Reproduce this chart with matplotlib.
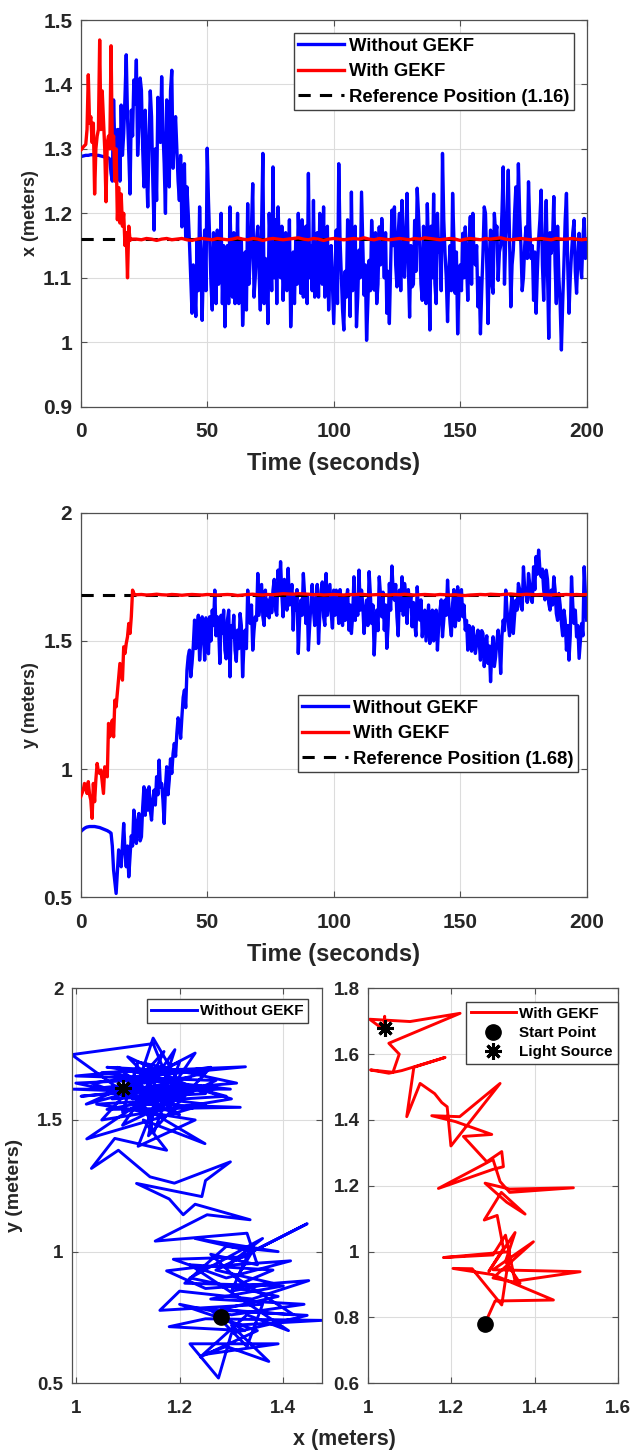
import numpy as np
import matplotlib
matplotlib.use('Agg')
import matplotlib.pyplot as plt

plt.rcParams['font.family'] = ['Liberation Sans', 'DejaVu Sans']
plt.rcParams['font.weight'] = 'bold'

# ---- x position vs time, without GEKF: whole seconds 0..200 ----
x_without = [
    1.288, 1.289, 1.290, 1.290, 1.291, 1.291, 1.290, 1.290, 1.289, 1.288,
    1.287, 1.286, 1.262, 1.376, 1.262, 1.330, 1.368, 1.324, 1.446, 1.293,
    1.360, 1.407, 1.438, 1.334, 1.391, 1.241, 1.272, 1.314, 1.350, 1.174,
    1.220, 1.340, 1.412, 1.277, 1.376, 1.241, 1.422, 1.319, 1.298, 1.220,
    1.179, 1.277, 1.241, 1.153, 1.045, 1.086, 1.158, 1.210, 1.034, 1.174,
    1.301, 1.158, 1.050, 1.112, 1.174, 1.117, 1.060, 1.024, 1.150, 1.210,
    1.070, 1.060, 1.200, 1.120, 1.026, 1.140, 1.215, 1.130, 1.246, 1.101,
    1.180, 1.050, 1.293, 1.130, 1.029, 1.150, 1.272, 1.190, 1.210, 1.100,
    1.065, 1.170, 1.090, 1.024, 1.140, 1.158, 1.200, 1.076, 1.070, 1.180,
    1.262, 1.150, 1.220, 1.110, 1.070, 1.160, 1.210, 1.120, 1.050, 1.150,
    1.029, 1.174, 1.277, 1.107, 1.019, 1.070, 1.127, 1.233, 1.138, 1.024,
    1.143, 1.233, 1.073, 1.003, 1.127, 1.189, 1.081, 1.060, 1.179, 1.192,
    1.100, 1.045, 1.029, 1.205, 1.210, 1.086, 1.200, 1.220, 1.101, 1.231,
    1.039, 1.086, 1.189, 1.239, 1.150, 1.065, 1.130, 1.215, 1.019, 1.100,
    1.091, 1.200, 1.160, 1.293, 1.138, 1.032, 1.150, 1.231, 1.076, 1.013,
    1.120, 1.169, 1.179, 1.065, 1.195, 1.200, 1.120, 1.055, 1.013, 1.138,
    1.200, 1.029, 1.174, 1.076, 1.169, 1.096, 1.150, 1.272, 1.160, 1.267,
    1.055, 1.143, 1.241, 1.277, 1.150, 1.101, 1.179, 1.249, 1.130, 1.065,
    1.045, 1.160, 1.236, 1.065, 1.220, 1.006, 1.138, 1.226, 1.060, 1.100,
    0.988, 1.122, 1.231, 1.045, 1.138, 1.189, 1.076, 1.169, 1.100, 1.192,
    1.160,
]
# half seconds 0.5..199.5
x_without_mid = [
    1.2885, 1.2895, 1.2900, 1.2905, 1.2910, 1.2905, 1.2900, 1.2895, 1.2885, 1.2875,
    1.2865, 1.2840, 1.250, 1.300, 1.330, 1.250, 1.290, 1.380, 1.350, 1.230,
    1.320, 1.370, 1.290, 1.410, 1.300, 1.360, 1.210, 1.390, 1.250, 1.300,
    1.380, 1.310, 1.330, 1.200, 1.300, 1.390, 1.270, 1.350, 1.250, 1.290,
    1.210, 1.160, 1.200, 1.100, 1.120, 1.040, 1.080, 1.130, 1.120, 1.080,
    1.220, 1.090, 1.170, 1.060, 1.090, 1.200, 1.150, 1.100, 1.060, 1.130,
    1.170, 1.100, 1.060, 1.160, 1.080, 1.050, 1.090, 1.180, 1.070, 1.160,
    1.110, 1.180, 1.060, 1.110, 1.200, 1.080, 1.100, 1.060, 1.150, 1.180,
    1.120, 1.080, 1.190, 1.090, 1.060, 1.090, 1.130, 1.190, 1.150, 1.060,
    1.100, 1.080, 1.070, 1.170, 1.200, 1.090, 1.070, 1.180, 1.110, 1.090,
    1.100, 1.060, 1.160, 1.050, 1.110, 1.190, 1.040, 1.080, 1.180, 1.070,
    1.100, 1.150, 1.120, 1.060, 1.080, 1.140, 1.170, 1.090, 1.120, 1.150,
    1.170, 1.110, 1.120, 1.150, 1.120, 1.170, 1.080, 1.140, 1.170, 1.120,
    1.150, 1.090, 1.110, 1.200, 1.090, 1.180, 1.060, 1.140, 1.180, 1.230,
    1.060, 1.140, 1.080, 1.190, 1.100, 1.110, 1.080, 1.160, 1.140, 1.090,
    1.080, 1.100, 1.120, 1.150, 1.090, 1.130, 1.150, 1.100, 1.080, 1.210,
    1.120, 1.130, 1.090, 1.200, 1.180, 1.140, 1.200, 1.090, 1.200, 1.160,
    1.120, 1.200, 1.160, 1.200, 1.080, 1.150, 1.130, 1.180, 1.150, 1.140,
    1.110, 1.190, 1.120, 1.150, 1.110, 1.170, 1.160, 1.120, 1.180, 1.060,
    1.060, 1.190, 1.120, 1.100, 1.170, 1.110, 1.130, 1.120, 1.160, 1.130,
]
# with GEKF: 0..20 s at 0.5 s, then 22..200 s at 2 s
x_with_early = [
    1.298, 1.300, 1.303, 1.305, 1.307, 1.330, 1.415, 1.340, 1.350, 1.310,
    1.340, 1.230, 1.300, 1.320, 1.330, 1.469, 1.330, 1.390, 1.345, 1.300,
    1.218, 1.310, 1.320, 1.300, 1.460, 1.300, 1.320, 1.250, 1.300, 1.190,
    1.240, 1.185, 1.230, 1.180, 1.200, 1.150, 1.170, 1.100, 1.180, 1.158,
    1.160,
]
x_with_late = [
    1.160, 1.159, 1.161, 1.160, 1.158, 1.160, 1.161, 1.159, 1.160, 1.161,
    1.159, 1.158, 1.160, 1.161, 1.160, 1.159, 1.161, 1.160, 1.159, 1.160,
    1.162, 1.160, 1.159, 1.161, 1.160, 1.158, 1.160, 1.161, 1.160, 1.159,
    1.160, 1.161, 1.162, 1.160, 1.159, 1.161, 1.160, 1.158, 1.160, 1.161,
    1.160, 1.159, 1.160, 1.161, 1.160, 1.162, 1.160, 1.159, 1.161, 1.160,
    1.159, 1.160, 1.161, 1.160, 1.159, 1.161, 1.160, 1.162, 1.161, 1.160,
    1.159, 1.160, 1.161, 1.160, 1.158, 1.160, 1.161, 1.160, 1.159, 1.161,
    1.160, 1.161, 1.162, 1.160, 1.159, 1.160, 1.161, 1.160, 1.159, 1.160,
    1.161, 1.160, 1.159, 1.161, 1.160, 1.160, 1.161, 1.160, 1.159, 1.160,
]
x_ref = 1.16

# ---- y position vs time, without GEKF: whole seconds 0..200 ----
y_without = [
    0.756, 0.765, 0.772, 0.775, 0.776, 0.776, 0.775, 0.773, 0.770, 0.766,
    0.762, 0.757, 0.750, 0.606, 0.515, 0.685, 0.619, 0.788, 0.619, 0.580,
    0.740, 0.840, 0.710, 0.827, 0.736, 0.931, 0.918, 0.931, 0.801, 0.918,
    0.970, 1.035, 0.944, 0.788, 1.009, 0.957, 0.983, 1.100, 1.139, 1.178,
    1.204, 1.308, 1.386, 1.464, 1.412, 1.581, 1.542, 1.425, 1.594, 1.425,
    1.516, 1.594, 1.620, 1.698, 1.594, 1.412, 1.529, 1.464, 1.581, 1.360,
    1.516, 1.464, 1.542, 1.607, 1.360, 1.542, 1.698, 1.568, 1.464, 1.594,
    1.763, 1.659, 1.594, 1.698, 1.659, 1.672, 1.698, 1.620, 1.776, 1.809,
    1.594, 1.698, 1.783, 1.672, 1.542, 1.620, 1.451, 1.659, 1.763, 1.568,
    1.464, 1.646, 1.620, 1.659, 1.490, 1.698, 1.594, 1.763, 1.659, 1.607,
    1.698, 1.698, 1.568, 1.594, 1.672, 1.659, 1.542, 1.529, 1.750, 1.672,
    1.776, 1.698, 1.529, 1.659, 1.770, 1.568, 1.445, 1.620, 1.750, 1.594,
    1.542, 1.471, 1.724, 1.792, 1.659, 1.594, 1.698, 1.750, 1.724, 1.568,
    1.634, 1.555, 1.568, 1.711, 1.581, 1.516, 1.620, 1.568, 1.490, 1.620,
    1.568, 1.464, 1.620, 1.516, 1.659, 1.737, 1.568, 1.646, 1.555, 1.711,
    1.672, 1.594, 1.542, 1.464, 1.516, 1.555, 1.451, 1.542, 1.425, 1.529,
    1.477, 1.412, 1.341, 1.516, 1.438, 1.542, 1.373, 1.581, 1.698, 1.568,
    1.620, 1.529, 1.659, 1.724, 1.634, 1.789, 1.685, 1.763, 1.659, 1.789,
    1.829, 1.854, 1.750, 1.698, 1.776, 1.646, 1.698, 1.750, 1.607, 1.685,
    1.568, 1.620, 1.464, 1.425, 1.750, 1.568, 1.516, 1.432, 1.568, 1.789,
    1.581,
]
# half seconds 0.5..199.5
y_without_mid = [
    0.761, 0.769, 0.774, 0.776, 0.776, 0.776, 0.774, 0.772, 0.768, 0.764,
    0.760, 0.754, 0.700, 0.560, 0.600, 0.650, 0.700, 0.680, 0.700, 0.660,
    0.700, 0.760, 0.800, 0.720, 0.850, 0.820, 0.840, 0.840, 0.880, 0.860,
    0.900, 0.930, 0.880, 0.930, 0.900, 1.040, 1.060, 1.050, 1.200, 1.120,
    1.280, 1.240, 1.440, 1.360, 1.480, 1.470, 1.600, 1.500, 1.540, 1.590,
    1.450, 1.500, 1.560, 1.520, 1.560, 1.600, 1.620, 1.430, 1.620, 1.560,
    1.600, 1.420, 1.470, 1.560, 1.480, 1.470, 1.620, 1.640, 1.540, 1.580,
    1.600, 1.720, 1.560, 1.600, 1.590, 1.610, 1.740, 1.600, 1.690, 1.680,
    1.740, 1.620, 1.640, 1.720, 1.680, 1.700, 1.580, 1.600, 1.680, 1.680,
    1.560, 1.720, 1.560, 1.720, 1.600, 1.730, 1.560, 1.600, 1.720, 1.550,
    1.600, 1.650, 1.700, 1.560, 1.580, 1.700, 1.640, 1.600, 1.580, 1.600,
    1.620, 1.640, 1.600, 1.560, 1.680, 1.640, 1.560, 1.540, 1.680, 1.690,
    1.640, 1.560, 1.620, 1.700, 1.720, 1.520, 1.620, 1.600, 1.680, 1.700,
    1.680, 1.650, 1.520, 1.620, 1.660, 1.580, 1.500, 1.640, 1.560, 1.500,
    1.620, 1.560, 1.660, 1.580, 1.600, 1.640, 1.520, 1.700, 1.600, 1.580,
    1.700, 1.640, 1.580, 1.560, 1.460, 1.520, 1.490, 1.500, 1.540, 1.400,
    1.520, 1.480, 1.460, 1.400, 1.500, 1.480, 1.520, 1.540, 1.620, 1.520,
    1.680, 1.600, 1.620, 1.700, 1.620, 1.700, 1.650, 1.720, 1.650, 1.700,
    1.760, 1.780, 1.780, 1.660, 1.740, 1.620, 1.640, 1.700, 1.580, 1.640,
    1.520, 1.580, 1.560, 1.520, 1.640, 1.620, 1.560, 1.500, 1.520, 1.680,
]
# with GEKF: 0..21.5 s at 0.5 s, then 22..200 s at 2 s
y_with_early = [
    0.892, 0.905, 0.918, 0.944, 0.930, 0.905, 0.951, 0.900, 0.879, 0.808,
    0.944, 0.873, 0.960, 1.022, 0.990, 0.983, 0.996, 0.950, 0.905, 1.009,
    0.990, 0.970, 1.178, 1.126, 1.170, 1.191, 1.126, 1.269, 1.243, 1.300,
    1.360, 1.412, 1.380, 1.347, 1.477, 1.451, 1.490, 1.516, 1.568, 1.529,
    1.594, 1.698, 1.685, 1.680,
]
y_with_late = [
    1.680, 1.681, 1.679, 1.680, 1.682, 1.680, 1.679, 1.681, 1.680, 1.678,
    1.680, 1.681, 1.680, 1.679, 1.681, 1.680, 1.679, 1.680, 1.681, 1.680,
    1.677, 1.679, 1.681, 1.682, 1.680, 1.679, 1.681, 1.680, 1.682, 1.684,
    1.683, 1.682, 1.684, 1.683, 1.682, 1.680, 1.681, 1.679, 1.680, 1.681,
    1.680, 1.679, 1.681, 1.680, 1.682, 1.681, 1.679, 1.680, 1.681, 1.680,
    1.679, 1.681, 1.680, 1.682, 1.680, 1.679, 1.680, 1.681, 1.680, 1.679,
    1.681, 1.680, 1.679, 1.680, 1.678, 1.677, 1.679, 1.680, 1.681, 1.680,
    1.682, 1.681, 1.680, 1.682, 1.683, 1.681, 1.680, 1.682, 1.681, 1.680,
    1.681, 1.680, 1.679, 1.681, 1.680, 1.681, 1.680, 1.681, 1.680, 1.681,
]
y_ref = 1.68

# ---- trajectories (x, y) ----
traj_without_x = [
    1.280, 1.325, 1.180, 1.250, 1.474, 1.300, 1.372, 1.290, 1.250, 1.390,
    1.220, 1.275, 1.300, 1.446, 1.260, 1.330, 1.360, 1.162, 1.200, 1.340,
    1.449, 1.250, 1.175, 1.230, 1.414, 1.290, 1.188, 1.330, 1.300, 1.380,
    1.270, 1.446, 1.300, 1.360, 1.220, 1.390, 1.280, 1.420, 1.310, 1.340,
    1.230, 1.390, 1.290, 1.210, 1.400, 1.260, 1.440, 1.300, 1.200, 1.350,
    1.240, 1.330, 1.410, 1.220, 1.380, 1.320, 1.260, 1.350,
    1.330, 1.153, 1.253, 1.336, 1.230, 1.207, 1.180,
    1.117, 1.243, 1.250, 1.298, 1.190, 1.143, 1.082, 1.030, 1.075, 1.175,
    1.130, 1.249, 1.120, 1.317, 1.060, 1.220, 0.995, 1.298, 1.100, 1.327,
    1.050, 1.200, 1.149, 1.110, 0.992, 1.149, 1.180, 1.021, 1.250, 1.080,
    1.230, 1.150, 1.191, 1.090, 1.270, 1.000, 1.180, 1.120, 1.230, 1.040,
    1.290, 1.080, 1.200, 1.030, 1.260, 1.140, 1.160, 1.010, 1.310, 1.120,
    1.090, 1.240, 1.060, 1.200, 1.100, 1.160, 1.060, 1.250, 1.020, 1.200,
    1.150, 1.110, 1.300, 1.050, 1.170, 1.130, 1.280, 1.040, 1.220, 1.000,
    1.190, 1.100, 1.250, 1.070, 1.150, 1.090,
]
traj_without_y = [
    0.752, 0.700, 0.715, 0.745, 0.739, 0.720, 0.583, 0.640, 0.610, 0.650,
    0.650, 0.520, 0.690, 0.758, 0.780, 0.640, 0.800, 0.777, 0.850, 0.820,
    0.890, 0.860, 0.927, 0.940, 0.965, 0.900, 0.971, 0.980, 0.850, 0.880,
    0.930, 1.106, 0.960, 1.050, 0.900, 0.830, 0.780, 0.760, 0.900, 1.000,
    1.050, 1.000, 1.020, 0.880, 0.870, 0.820, 0.800, 0.760, 0.800, 0.700,
    0.600, 0.760, 0.700, 0.950, 0.930, 0.880, 0.990, 0.950,
    1.070, 1.040, 1.140, 1.121, 1.180, 1.140, 1.200,
    1.259, 1.209, 1.270, 1.341, 1.260, 1.284, 1.385, 1.316, 1.430, 1.385,
    1.500, 1.410, 1.560, 1.548, 1.540, 1.600, 1.617, 1.617, 1.660, 1.702,
    1.680, 1.640, 1.811, 1.580, 1.748, 1.790, 1.640, 1.428, 1.560, 1.600,
    1.754, 1.520, 1.767, 1.480, 1.650, 1.667, 1.700, 1.400, 1.500, 1.560,
    1.590, 1.700, 1.520, 1.640, 1.700, 1.440, 1.620, 1.590, 1.640, 1.720,
    1.530, 1.630, 1.620, 1.580, 1.640, 1.680, 1.700, 1.680, 1.560, 1.720,
    1.450, 1.690, 1.580, 1.500, 1.760, 1.600, 1.620, 1.620, 1.660, 1.640,
    1.560, 1.740, 1.600, 1.580, 1.690, 1.616,
]
traj_with_x = [
    1.279, 1.305, 1.445, 1.300, 1.204, 1.250, 1.321, 1.340, 1.181, 1.300,
    1.330, 1.353, 1.509, 1.300, 1.397, 1.300, 1.365, 1.330, 1.353, 1.290,
    1.325, 1.310, 1.279, 1.320, 1.377, 1.333, 1.281, 1.340, 1.493, 1.340,
    1.317, 1.300, 1.169, 1.300, 1.325, 1.321, 1.285, 1.229, 1.297, 1.210,
    1.153, 1.220, 1.317, 1.199, 1.190, 1.177, 1.160, 1.125, 1.093, 1.110,
    1.185, 1.081, 1.050, 1.006, 1.060, 1.075, 1.050, 1.221, 1.101, 1.004,
    1.040, 1.040, 1.0375,
]
traj_with_y = [
    0.777, 0.850, 0.853, 0.930, 0.949, 0.948, 0.838, 1.000, 0.982, 0.990,
    1.050, 0.910, 0.939, 0.945, 1.030, 0.920, 0.904, 0.970, 1.058, 0.940,
    1.010, 1.110, 1.096, 1.180, 1.114, 1.150, 1.208, 1.190, 1.194, 1.180,
    1.213, 1.280, 1.192, 1.250, 1.258, 1.304, 1.273, 1.350, 1.356, 1.395,
    1.413, 1.410, 1.511, 1.321, 1.440, 1.453, 1.480, 1.511, 1.410, 1.560,
    1.590, 1.550, 1.542, 1.552, 1.545, 1.600, 1.633, 1.724, 1.699, 1.706,
    1.672, 1.715, 1.680,
]
start_left = (1.28, 0.752)
light_left = (1.09, 1.62)
start_right = (1.28, 0.78)
light_right = (1.04, 1.68)

BLUE = '#0000ff'
RED = '#ff0000'
TXT = '#262626'


def interleave(whole, half):
    out = np.empty(len(whole) + len(half))
    out[0::2] = whole
    out[1::2] = half
    return out


def style(ax, tick_size, xpad):
    ax.grid(True, color='#dcdcdc', linewidth=0.8)
    ax.set_axisbelow(True)
    for s in ax.spines.values():
        s.set_color('#505050')
        s.set_linewidth(0.9)
    ax.tick_params(direction='in', length=4, width=0.8, color='#505050',
                   labelsize=tick_size, labelcolor=TXT, top=True, right=True,
                   labeltop=False, labelright=False)
    ax.tick_params(axis='x', pad=xpad)
    ax.tick_params(axis='y', pad=6)


W, H = 635, 1452
fig = plt.figure(figsize=(W / 100, H / 100), dpi=100)


def px_axes(left, top, right, bottom):
    return fig.add_axes([left / W, 1 - bottom / H, (right - left) / W, (bottom - top) / H])


legend_kw = dict(borderaxespad=0, fontsize=13.3, handlelength=2.5, handletextpad=0.25,
                 labelspacing=0.46, borderpad=0.25, fancybox=False, framealpha=1,
                 edgecolor='#404040')

x_blue = interleave(x_without, x_without_mid)
y_blue = interleave(y_without, y_without_mid)
t_blue = np.linspace(0, 200, len(x_blue))

# ---------- top: x vs time ----------
ax1 = px_axes(80.7, 20, 586.7, 406.7)
t_xe = np.linspace(0, 20, len(x_with_early))
t_xl = np.linspace(22, 200, len(x_with_late))
l1, = ax1.plot(t_blue, x_blue, color=BLUE, lw=2.4, zorder=2, label='Without GEKF')
l3, = ax1.plot([0, 200], [x_ref, x_ref], 'k--', lw=2.2, dashes=(4, 3), zorder=3,
               label='Reference Position (1.16)')
l2, = ax1.plot(np.concatenate([t_xe, t_xl]), x_with_early + x_with_late, color=RED,
               lw=2.4, zorder=4, label='With GEKF')
ax1.set_xlim(0, 200)
ax1.set_ylim(0.9, 1.5)
ax1.set_xticks([0, 50, 100, 150, 200])
ax1.set_yticks([0.9, 1.0, 1.1, 1.2, 1.3, 1.4, 1.5])
ax1.set_yticklabels(['0.9', '1', '1.1', '1.2', '1.3', '1.4', '1.5'])
style(ax1, 15, 11)
ax1.set_xlabel('Time (seconds)', fontsize=17, fontweight='bold', color=TXT, labelpad=8)
ax1.set_ylabel('x (meters)', fontsize=13, fontweight='bold', color=TXT, labelpad=3)
ax1.legend(handles=[l1, l2, l3], loc='upper right', bbox_to_anchor=(0.975, 0.966),
           **legend_kw)

# ---------- middle: y vs time ----------
ax2 = px_axes(80.7, 512.7, 586.7, 897.3)
t_ye = np.linspace(0, 21.5, len(y_with_early))
t_yl = np.linspace(22, 200, len(y_with_late))
m1, = ax2.plot(t_blue, y_blue, color=BLUE, lw=2.4, zorder=2, label='Without GEKF')
m3, = ax2.plot([0, 200], [y_ref, y_ref], 'k--', lw=2.2, dashes=(4, 3), zorder=3,
               label='Reference Position (1.68)')
m2, = ax2.plot(np.concatenate([t_ye, t_yl]), y_with_early + y_with_late, color=RED,
               lw=2.4, zorder=4, label='With GEKF')
ax2.set_xlim(0, 200)
ax2.set_ylim(0.5, 2)
ax2.set_xticks([0, 50, 100, 150, 200])
ax2.set_yticks([0.5, 1, 1.5, 2])
ax2.set_yticklabels(['0.5', '1', '1.5', '2'])
style(ax2, 15, 11)
ax2.set_xlabel('Time (seconds)', fontsize=17, fontweight='bold', color=TXT, labelpad=8)
ax2.set_ylabel('y (meters)', fontsize=13, fontweight='bold', color=TXT, labelpad=3)
ax2.legend(handles=[m1, m2, m3], loc='upper right', bbox_to_anchor=(0.983, 0.526),
           **legend_kw)

# ---------- bottom left: trajectory without GEKF ----------
ax3 = px_axes(71.7, 988.3, 321.7, 1383.3)
ax3.plot(traj_without_x, traj_without_y, color=BLUE, lw=2.1, label='Without GEKF')
ax3.plot(*start_left, 'o', color='k', ms=11, zorder=5)
ax3.plot(*light_left, marker=(8, 2, 0), color='k', ms=12, mew=2.2, zorder=5)
ax3.set_xlim(0.992, 1.474)
ax3.set_ylim(0.5, 2)
ax3.set_xticks([1, 1.2, 1.4])
ax3.set_xticklabels(['1', '1.2', '1.4'])
ax3.set_yticks([0.5, 1, 1.5, 2])
ax3.set_yticklabels(['0.5', '1', '1.5', '2'])
style(ax3, 13.5, 12)
ax3.set_ylabel('y (meters)', fontsize=14, fontweight='bold', color=TXT, labelpad=10)
ax3.legend(loc='upper right', bbox_to_anchor=(0.946, 0.972), borderaxespad=0,
           fontsize=11, handlelength=3.0, handletextpad=0.2, borderpad=0.3,
           fancybox=False, framealpha=1, edgecolor='#404040')

# ---------- bottom right: trajectory with GEKF ----------
ax4 = px_axes(368, 988.3, 618, 1383.3)
r1, = ax4.plot(traj_with_x, traj_with_y, color=RED, lw=2.1, label='With GEKF')
r2, = ax4.plot(*start_right, 'o', color='k', ms=11, ls='none', zorder=5, label='Start Point')
r3, = ax4.plot(*light_right, marker=(8, 2, 0), color='k', ms=12, mew=2.2, ls='none',
               zorder=5, label='Light Source')
ax4.set_xlim(1, 1.6)
ax4.set_ylim(0.6, 1.8)
ax4.set_xticks([1, 1.2, 1.4, 1.6])
ax4.set_xticklabels(['1', '1.2', '1.4', '1.6'])
ax4.set_yticks([0.6, 0.8, 1.0, 1.2, 1.4, 1.6, 1.8])
ax4.set_yticklabels(['0.6', '0.8', '1', '1.2', '1.4', '1.6', '1.8'])
style(ax4, 13.5, 12)
ax4.legend(handles=[r1, r2, r3], loc='upper right', bbox_to_anchor=(0.998, 0.965),
           borderaxespad=0, fontsize=11, handlelength=3.0, handletextpad=0.2,
           labelspacing=0.35, borderpad=0.3, fancybox=False, framealpha=1,
           edgecolor='#404040')

fig.text(344 / W, 1 - 1440 / H, 'x (meters)', ha='center', va='center',
         fontsize=15.5, fontweight='bold', color=TXT)

fig.savefig('out.png', dpi=100)
